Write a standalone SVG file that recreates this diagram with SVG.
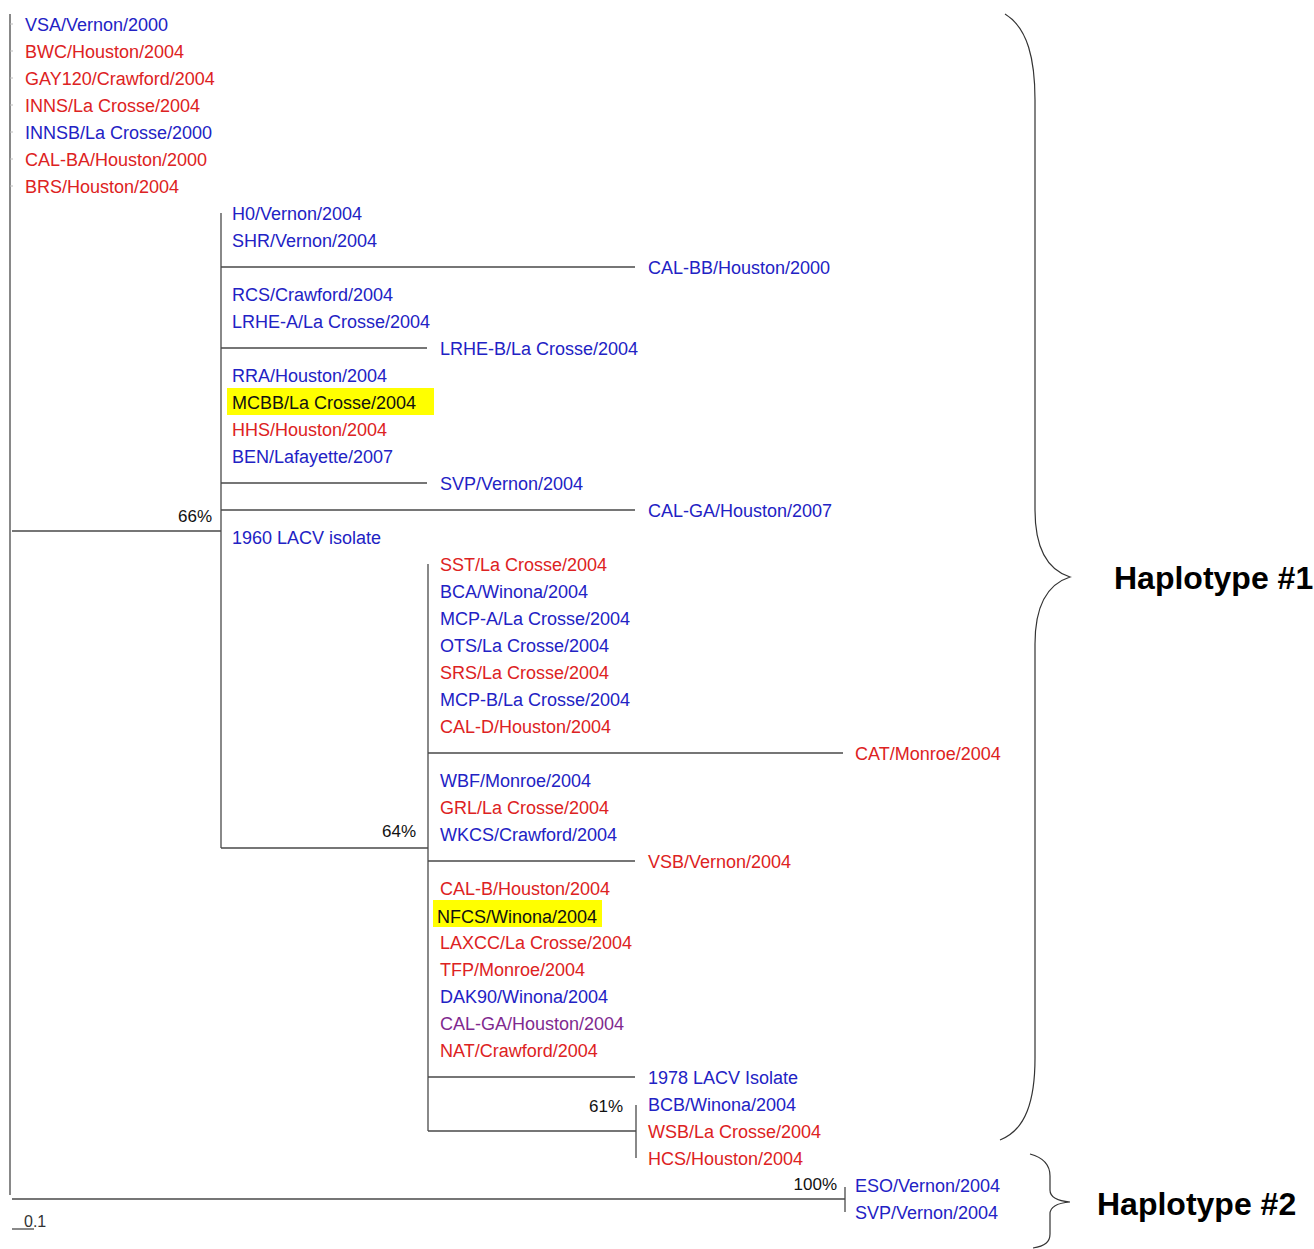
<svg xmlns="http://www.w3.org/2000/svg" width="1314" height="1249" viewBox="0 0 1314 1249">
<style>
text{font-family:"Liberation Sans",Arial,sans-serif;font-size:18px}
.b{fill:#2222c4}
.r{fill:#dd2222}
.p{fill:#7f2a8f}
.k{fill:#111}
.pct{font-size:17px;fill:#111;text-anchor:end}
.hap{font-size:32px;font-weight:bold;fill:#000}
.hl{fill:#ffff00}
.ln{stroke:#4a4a4a;stroke-width:1.3;fill:none}
.tick{stroke:#bbb;stroke-width:1;fill:none}
.brace{stroke:#333;stroke-width:1.2;fill:none}
</style>
<rect width="1314" height="1249" fill="#fff"/>
<g id="connectors">
<path class="ln" d="M10 14V1195M12 1199H845M845 1187V1212M12 531H221M221 213V848M221 267H635M221 348H427M221 483H427M221 510H635M221 848H428M428 564V1131M428 753H843M428 861H635M428 1077H635M428 1131H636M636 1105V1158"/>
<path class="tick" d="M10 24H13M10 51H13M10 78H13M10 105H13M10 132H13M10 159H13M10 186H13"/>
</g>
<g id="highlights">
<rect class="hl" x="227" y="388" width="207" height="27"/>
<rect class="hl" x="433" y="900" width="169" height="27"/>
</g>
<g id="leaves-root">
<text class="b" x="25" y="30.5">VSA/Vernon/2000</text>
<text class="r" x="25" y="57.5">BWC/Houston/2004</text>
<text class="r" x="25" y="84.5">GAY120/Crawford/2004</text>
<text class="r" x="25" y="111.5">INNS/La Crosse/2004</text>
<text class="b" x="25" y="138.5">INNSB/La Crosse/2000</text>
<text class="r" x="25" y="165.5">CAL-BA/Houston/2000</text>
<text class="r" x="25" y="192.5">BRS/Houston/2004</text>
</g>
<g id="node-66">
<text class="pct" x="212" y="522">66%</text>
<text class="b" x="232" y="219.5">H0/Vernon/2004</text>
<text class="b" x="232" y="246.5">SHR/Vernon/2004</text>
<text class="b" x="648" y="273.5">CAL-BB/Houston/2000</text>
<text class="b" x="232" y="300.5">RCS/Crawford/2004</text>
<text class="b" x="232" y="327.5">LRHE-A/La Crosse/2004</text>
<text class="b" x="440" y="354.5">LRHE-B/La Crosse/2004</text>
<text class="b" x="232" y="381.5">RRA/Houston/2004</text>
<text class="k" x="232" y="408.5">MCBB/La Crosse/2004</text>
<text class="r" x="232" y="435.5">HHS/Houston/2004</text>
<text class="b" x="232" y="462.5">BEN/Lafayette/2007</text>
<text class="b" x="440" y="489.5">SVP/Vernon/2004</text>
<text class="b" x="648" y="516.5">CAL-GA/Houston/2007</text>
<text class="b" x="232" y="543.5">1960 LACV isolate</text>
</g>
<g id="node-64">
<text class="pct" x="416" y="837">64%</text>
<text class="r" x="440" y="570.5">SST/La Crosse/2004</text>
<text class="b" x="440" y="597.5">BCA/Winona/2004</text>
<text class="b" x="440" y="624.5">MCP-A/La Crosse/2004</text>
<text class="b" x="440" y="651.5">OTS/La Crosse/2004</text>
<text class="r" x="440" y="678.5">SRS/La Crosse/2004</text>
<text class="b" x="440" y="705.5">MCP-B/La Crosse/2004</text>
<text class="r" x="440" y="732.5">CAL-D/Houston/2004</text>
<text class="r" x="855" y="759.5">CAT/Monroe/2004</text>
<text class="b" x="440" y="786.5">WBF/Monroe/2004</text>
<text class="r" x="440" y="813.5">GRL/La Crosse/2004</text>
<text class="b" x="440" y="840.5">WKCS/Crawford/2004</text>
<text class="r" x="648" y="867.5">VSB/Vernon/2004</text>
<text class="r" x="440" y="894.5">CAL-B/Houston/2004</text>
<text class="k" x="437" y="923">NFCS/Winona/2004</text>
<text class="r" x="440" y="948.5">LAXCC/La Crosse/2004</text>
<text class="r" x="440" y="975.5">TFP/Monroe/2004</text>
<text class="b" x="440" y="1002.5">DAK90/Winona/2004</text>
<text class="p" x="440" y="1029.5">CAL-GA/Houston/2004</text>
<text class="r" x="440" y="1056.5">NAT/Crawford/2004</text>
<text class="b" x="648" y="1083.5">1978 LACV Isolate</text>
</g>
<g id="node-61">
<text class="pct" x="623" y="1112">61%</text>
<text class="b" x="648" y="1110.5">BCB/Winona/2004</text>
<text class="r" x="648" y="1137.5">WSB/La Crosse/2004</text>
<text class="r" x="648" y="1164.5">HCS/Houston/2004</text>
</g>
<g id="node-100">
<text class="pct" x="837" y="1190">100%</text>
<text class="b" x="855" y="1191.5">ESO/Vernon/2004</text>
<text class="b" x="855" y="1218.5">SVP/Vernon/2004</text>
</g>
<g id="scale">
<path class="ln" d="M12 1229H34"/>
<text x="24" y="1227" style="font-size:16px;fill:#333">0.1</text>
</g>
<g id="haplotype1">
<path class="brace" d="M1005 14C1028 28 1035 60 1035 100L1035 510C1035 548 1048 570 1070 577C1048 584 1035 606 1035 644L1035 1058C1035 1100 1026 1130 1000 1140"/>
<text class="hap" x="1114" y="589">Haplotype #1</text>
</g>
<g id="haplotype2">
<path class="brace" d="M1030 1154C1045 1158 1050 1166 1050 1176L1050 1190C1050 1197 1058 1201 1070 1202C1058 1203 1050 1207 1050 1214L1050 1234C1050 1242 1045 1246 1033 1248"/>
<text class="hap" x="1097" y="1215">Haplotype #2</text>
</g>
</svg>
